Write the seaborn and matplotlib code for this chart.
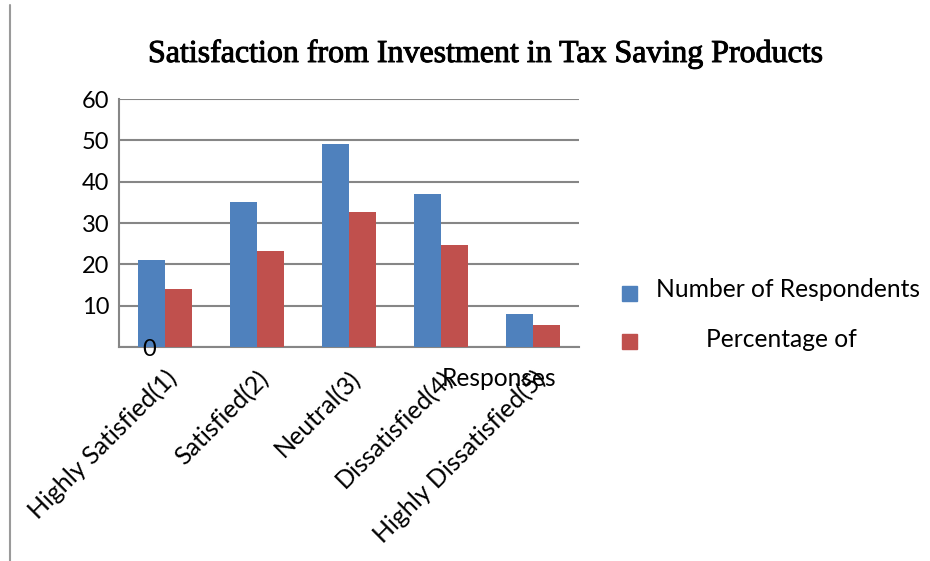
import matplotlib
matplotlib.use("Agg")
import matplotlib.pyplot as plt
import matplotlib.patheffects as pe
from matplotlib.patches import Rectangle
from matplotlib.lines import Line2D
import seaborn as sns
import pandas as pd

categories = ["Highly Satisfied(1)", "Satisfied(2)", "Neutral(3)",
              "Dissatisfied(4)", "Highly Dissatisfied(5)"]
respondents = [21, 35, 49, 37, 8]
percentage = [14.0, 23.33, 32.67, 24.67, 5.33]
series_names = ["Number of Respondents", "Percentage of Responses"]
y_ticks = [0, 10, 20, 30, 40, 50, 60]

colors = ["#4F81BD", "#C0504D"]
grid_grey = "#868686"
FS_Y = 17
FS_X = 18
FS_LEG = 17.7

df = pd.DataFrame({
    "category": categories * 2,
    "value": respondents + percentage,
    "series": [series_names[0]] * len(categories) + [series_names[1]] * len(categories),
})

sns.set_theme(style="white")
plt.rcParams["font.family"] = ["Lato", "DejaVu Sans"]

W, H = 930, 561
fig = plt.figure(figsize=(W / 100, H / 100), dpi=100)
ax = fig.add_axes([119 / W, 1 - 347 / H, 460 / W, 248 / H])

sns.barplot(data=df, x="category", y="value", hue="series", order=categories,
            hue_order=series_names, palette=colors, width=0.58, saturation=1,
            legend=False, ax=ax, zorder=3)
for p in ax.patches:
    p.set_edgecolor("none")

ax.set_ylim(0, 60)
ax.set_xlim(-0.5, len(categories) - 0.5)
ax.set_yticks(y_ticks)
ax.set_yticklabels(["" if v == 0 else str(v) for v in y_ticks])
ax.yaxis.grid(True, color=grid_grey, linewidth=1.5, zorder=0)
ax.set_axisbelow(True)
ax.set_xlabel("")
ax.set_ylabel("")

for s in ["top", "right"]:
    ax.spines[s].set_visible(False)
for s in ["left", "bottom"]:
    ax.spines[s].set_color(grid_grey)
    ax.spines[s].set_linewidth(1.5)

ax.tick_params(axis="y", length=0, pad=7, labelsize=FS_Y, labelcolor="black")
ax.tick_params(axis="x", length=0, pad=14, labelsize=FS_X, labelcolor="black")
plt.setp(ax.get_xticklabels(), rotation=45, ha="right", va="top",
         rotation_mode="anchor")

# zero label sits over the first bar
ax.text(-0.17, 0, "0", ha="center", va="center_baseline", fontsize=FS_Y,
        color="black", zorder=5)

fig.text(486 / W, 1 - 62 / H, "Satisfaction from Investment in Tax Saving Products",
         ha="center", va="baseline", fontsize=23, family="Liberation Serif",
         color="black",
         path_effects=[pe.withStroke(linewidth=0.7, foreground="black")])

# legend
fig.add_artist(Rectangle((622 / W, 1 - 301 / H), 15 / W, 15 / H,
                         transform=fig.transFigure, color=colors[0]))
fig.add_artist(Rectangle((622 / W, 1 - 349 / H), 15 / W, 15 / H,
                         transform=fig.transFigure, color=colors[1]))
fig.text(656 / W, 1 - 297 / H, "Number of Respondents", ha="left",
         va="baseline", fontsize=FS_LEG, color="black")
fig.text(781 / W, 1 - 347 / H, "Percentage of", ha="center",
         va="baseline", fontsize=FS_LEG, color="black")
fig.text(499 / W, 1 - 386 / H, "Responses", ha="center", va="baseline",
         fontsize=FS_LEG, color="black")

# frame edge on the left
fig.add_artist(Line2D([10 / W, 10 / W], [0, 1 - 5 / H],
                      transform=fig.transFigure, color="#9a9a9a", linewidth=1.5))

fig.savefig("out.png", dpi=100, facecolor="white")
